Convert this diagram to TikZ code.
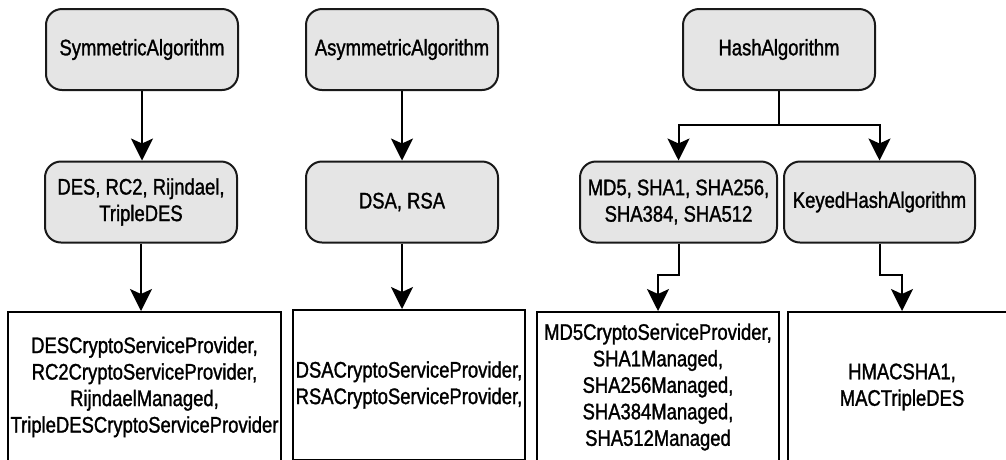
\documentclass[tikz,border=0pt]{standalone}
\usepackage{fontspec}
\setmainfont[FakeStretch=0.82,FakeBold=1.3]{Liberation Sans}
\usetikzlibrary{arrows.meta}
\begin{document}
\begin{tikzpicture}[x=1pt,y=-1pt,
  algbox/.style={draw=black!90, line width=2pt, fill=black!10, rounded corners=16pt,
    minimum width=192pt, minimum height=81pt, align=center, inner sep=0pt,
    font=\fontsize{22.5}{26.5}\selectfont},
  implbox/.style={draw=black, line width=2pt, fill=white, align=center, inner sep=0pt,
    minimum height=150pt, font=\fontsize{22.5}{26.5}\selectfont},
  arr/.style={line width=2pt, -{Stealth[length=22pt,width=22pt,inset=5pt]}}
]
\useasboundingbox (0,0) rectangle (1006,459);
\clip (0,0) rectangle (1006,459);
\fill[white] (0,0) rectangle (1006,459);

% top row
\node[algbox] (sym) at (142,49.5) {SymmetricAlgorithm};
\node[algbox] (asym) at (402,49.5) {AsymmetricAlgorithm};
\node[algbox] (hash) at (779,49.5) {HashAlgorithm};

% second row
\node[algbox] (des) at (141,202) {DES, RC2, Rijndael,\\TripleDES};
\node[algbox] (dsa) at (402,202) {DSA, RSA};
\node[algbox, minimum width=197pt] (md5) at (678.5,202) {MD5, SHA1, SHA256,\\SHA384, SHA512};
\node[algbox, minimum width=191pt] (keyed) at (879.5,202) {KeyedHashAlgorithm};

% bottom row
\node[implbox, minimum width=273pt] (b1) at (144.5,387)
  {DESCryptoServiceProvider,\\RC2CryptoServiceProvider,\\RijndaelManaged,\\TripleDESCryptoServiceProvider};
\node[implbox, minimum width=232pt] (b2) at (409,385)
  {DSACryptoServiceProvider,\\RSACryptoServiceProvider,};
\node[implbox, minimum width=242pt] (b3) at (658,387)
  {MD5CryptoServiceProvider,\\SHA1Managed,\\SHA256Managed,\\SHA384Managed,\\SHA512Managed};
\node[implbox, minimum width=228pt] (b4) at (902,387)
  {HMACSHA1,\\MACTripleDES};

% connectors
\draw[arr] (sym.south) -- (sym.south |- des.north);
\draw[arr] (des.south) -- (des.south |- b1.north);
\draw[arr] (asym.south) -- (asym.south |- dsa.north);
\draw[arr] (dsa.south) -- (dsa.south |- b2.north);
\draw[arr] (hash.south) -- ++(0,34) -| (md5.north);
\draw[arr] (hash.south) -- ++(0,34) -| (keyed.north);
\draw[arr] (md5.south) -- ++(0,31) -| (b3.north);
\draw[arr] (keyed.south) -- ++(0,31) -| (b4.north);
\end{tikzpicture}
\end{document}
